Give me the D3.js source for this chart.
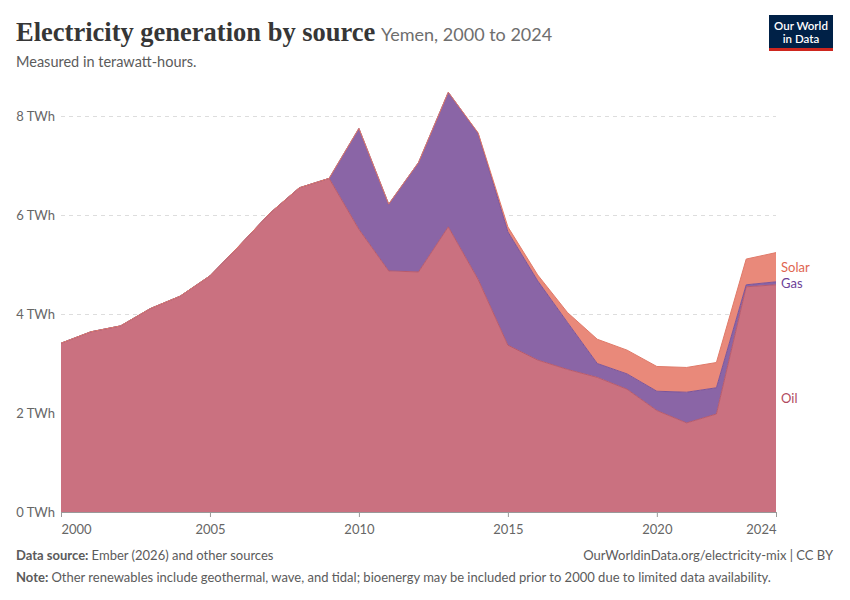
<!DOCTYPE html>
<html>
<head>
<meta charset="utf-8">
<script src="https://cdn.jsdelivr.net/npm/d3@7"></script>
<style>
  body { margin: 0; background: #fff; }
  text { font-family: Lato, "Noto Sans", sans-serif; }
</style>
</head>
<body>
<svg id="chart" width="850" height="600"></svg>
<script>
// values, TWh
var years = d3.range(2000, 2025);
var oil = [3.41, 3.64, 3.76, 4.11, 4.36, 4.77, 5.39, 6.03, 6.55, 6.74,
           5.71, 4.87, 4.85, 5.76, 4.70, 3.37, 3.07, 2.88, 2.72, 2.48,
           2.05, 1.80, 1.98, 4.55, 4.59];
var gas = [0, 0, 0, 0, 0, 0, 0, 0, 0, 0,
           2.04, 1.35, 2.21, 2.72, 2.95, 2.29, 1.60, 0.95, 0.28, 0.31,
           0.39, 0.62, 0.53, 0.04, 0.06];
var solar = [0, 0, 0, 0, 0, 0, 0, 0, 0, 0,
             0, 0, 0, 0, 0.01, 0.10, 0.12, 0.20, 0.49, 0.48,
             0.50, 0.50, 0.51, 0.52, 0.59];
var yTicks = [0, 2, 4, 6, 8];
var xTicks = [2000, 2005, 2010, 2015, 2020, 2024];

var keys = ["Oil", "Gas", "Solar"];
var fills = { Oil: "#ca7180", Gas: "#8a65a6", Solar: "#e9897a" };
var strokes = { Oil: "#b85a6b", Gas: "#7b549a", Solar: "#e07a69" };
var labelColors = { Oil: "#b04a5e", Gas: "#6d3f97", Solar: "#e0654f" };

var rows = years.map(function(y, i) {
  return { year: y, Oil: oil[i], Gas: gas[i], Solar: solar[i] };
});

var svg = d3.select("#chart");
var margin = { left: 61, right: 74, top: 116, bottom: 88 };
var width = 850, height = 600;

var x = d3.scaleLinear().domain([2000, 2024]).range([margin.left, width - margin.right]);
var y = d3.scaleLinear().domain([0, 8]).range([height - margin.bottom, margin.top]);

// header
svg.append("text").attr("x", 16).attr("y", 41)
  .style("font-family", "'Liberation Serif', 'DejaVu Serif', serif")
  .style("font-weight", "bold").style("font-size", "26.5px").attr("fill", "#363636")
  .text("Electricity generation by source");
svg.append("text").attr("x", 381).attr("y", 41)
  .style("font-size", "18px").attr("fill", "#6e6e6e")
  .text("Yemen, 2000 to 2024");
svg.append("text").attr("x", 16).attr("y", 67)
  .style("font-size", "14.5px").attr("fill", "#5b5b5b")
  .text("Measured in terawatt-hours.");

// logo
var logo = svg.append("g").attr("transform", "translate(769,15)");
logo.append("rect").attr("width", 64).attr("height", 36).attr("fill", "#002147");
logo.append("rect").attr("y", 33).attr("width", 64).attr("height", 3).attr("fill", "#ce261e");
logo.append("text").attr("x", 32).attr("y", 15).attr("text-anchor", "middle")
  .style("font-size", "11.5px").style("font-weight", "600").attr("fill", "#fff").text("Our World");
logo.append("text").attr("x", 32).attr("y", 28).attr("text-anchor", "middle")
  .style("font-size", "11.5px").style("font-weight", "600").attr("fill", "#fff").text("in Data");

// grid + y axis labels
var yAxis = d3.axisLeft(y).tickValues(yTicks)
  .tickSize(-(width - margin.left - margin.right))
  .tickFormat(function(d) { return d + " TWh"; });
var gy = svg.append("g").attr("transform", "translate(" + margin.left + ",0)").call(yAxis);
gy.select(".domain").remove();
gy.selectAll(".tick line").attr("stroke", "#dddddd").attr("stroke-dasharray", "4,4");
gy.selectAll(".tick text").attr("x", -6).attr("fill", "#666").style("font-size", "13px");

// stacked areas
var series = d3.stack().keys(keys)(rows);
var area = d3.area()
  .x(function(d) { return x(d.data.year); })
  .y0(function(d) { return y(d[0]); })
  .y1(function(d) { return y(d[1]); });
var topLine = d3.line()
  .x(function(d) { return x(d.data.year); })
  .y(function(d) { return y(d[1]); });

svg.append("g").selectAll("path.area").data(series).enter().append("path")
  .attr("class", "area")
  .attr("d", area)
  .attr("fill", function(d) { return fills[d.key]; });
svg.append("g").selectAll("path.top").data(series).enter().append("path")
  .attr("class", "top")
  .attr("d", topLine)
  .attr("fill", "none")
  .attr("stroke-width", 1)
  .attr("stroke", function(d) { return strokes[d.key]; });

// x axis
var xAxis = d3.axisBottom(x).tickValues(xTicks).tickFormat(d3.format("d")).tickSize(5);
var gx = svg.append("g").attr("transform", "translate(0," + y(0) + ")").call(xAxis);
gx.select(".domain").attr("stroke", "#999");
gx.selectAll(".tick line").attr("stroke", "#999");
gx.selectAll(".tick text").attr("fill", "#666").style("font-size", "13px").attr("dy", "1.05em");
gx.selectAll(".tick text").filter(function(d) { return d === 2000; }).attr("text-anchor", "start");
gx.selectAll(".tick text").filter(function(d) { return d === 2024; }).attr("text-anchor", "end");

// series labels at middle of last band
var last = rows.length - 1;
svg.append("g").selectAll("text").data(series).enter().append("text")
  .attr("x", x(2024) + 5)
  .attr("y", function(d) { return y((d[last][0] + d[last][1]) / 2); })
  .attr("dy", "0.35em")
  .attr("fill", function(d) { return labelColors[d.key]; })
  .style("font-size", "13px")
  .text(function(d) { return d.key; });

// footer
var f1 = svg.append("text").attr("x", 16).attr("y", 560).style("font-size", "13px").attr("fill", "#5b5b5b");
f1.append("tspan").style("font-weight", "bold").text("Data source: ");
f1.append("tspan").text("Ember (2026) and other sources");
svg.append("text").attr("x", 833).attr("y", 560).attr("text-anchor", "end")
  .style("font-size", "13px").attr("fill", "#5b5b5b")
  .text("OurWorldinData.org/electricity-mix | CC BY");
var f2 = svg.append("text").attr("x", 16).attr("y", 582).style("font-size", "13px").attr("fill", "#5b5b5b");
f2.append("tspan").style("font-weight", "bold").text("Note: ");
f2.append("tspan").text("Other renewables include geothermal, wave, and tidal; bioenergy may be included prior to 2000 due to limited data availability.");
</script>
</body>
</html>
